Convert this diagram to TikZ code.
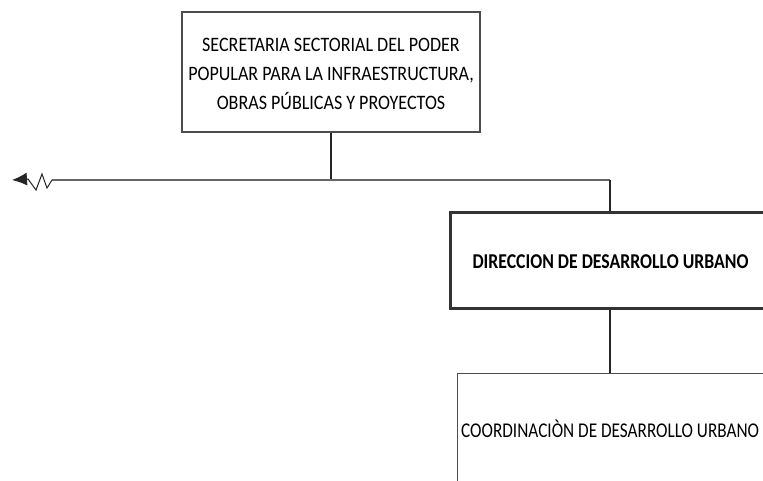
\documentclass[tikz,border=0pt]{standalone}
\usepackage{fontspec}
\setmainfont{Carlito}
\newfontfamily\narrowfont[FakeStretch=0.88]{Carlito}
\newfontfamily\narrowfontb[FakeStretch=0.84]{Carlito}
\newfontfamily\narrowfontc[FakeStretch=0.82]{Carlito}
\usetikzlibrary{arrows.meta}
\tikzset{
  box/.style={draw=black!70, line width=1.3pt, fill=white, inner sep=0pt},
  thickbox/.style={draw=black!80, line width=3pt, fill=white, inner sep=0pt},
  conn/.style={draw=black!85, line width=1.1pt},
  txt/.style={font=\narrowfont\fontsize{20.5}{29}\selectfont, align=center, inner sep=0pt},
}
\begin{document}
\begin{tikzpicture}[x=1pt,y=-1pt]
\useasboundingbox (0,0) rectangle (763,481);
\clip (0,0) rectangle (763,481);
\fill[white] (0,0) rectangle (763,481);
% nodes
\node[box, minimum width=298pt, minimum height=120pt] (top) at (331,72) {};
\node[txt, anchor=base] (t1) at (331,52) {SECRETARIA SECTORIAL DEL PODER};
\node[txt, anchor=base] (t2) at (331,81) {POPULAR PARA LA INFRAESTRUCTURA,};
\node[txt, anchor=base] (t3) at (331,110) {OBRAS PÚBLICAS Y PROYECTOS};
\node[thickbox, minimum width=320pt, minimum height=95pt] (dir) at (610,260.5) {};
\node[txt, font=\narrowfontb\bfseries\fontsize{21.1}{25}\selectfont, anchor=base] (dirt) at (610.5,268) {DIRECCION DE DESARROLLO URBANO};
\node[box, minimum width=306pt, minimum height=160pt, anchor=north west] (coord) at (457,373) {};
\node[txt, font=\narrowfontc\fontsize{21}{25}\selectfont, anchor=base west] (coordt) at (461,437) {COORDINACIÒN DE DESARROLLO URBANO};
% connectors
\coordinate (j1) at (331,180);
\coordinate (j2) at (610,180);
\coordinate (zz) at (52,180);
\coordinate (tip) at (12,180);
\draw[conn] (top.south) -- (j1);
\draw[conn, draw=black!60, line width=1.6pt] (j2) -- (zz);
\draw[conn] (j2) -- (dir.north);
\draw[conn] (dir.south) -- (coord.north -| dir.south);
\draw[conn, line width=1pt, -{Latex[length=15pt,width=13pt]}] (zz) -- (47,188) -- (42,174) -- (36,190) -- (28,179) -- (tip);
\end{tikzpicture}
\end{document}
